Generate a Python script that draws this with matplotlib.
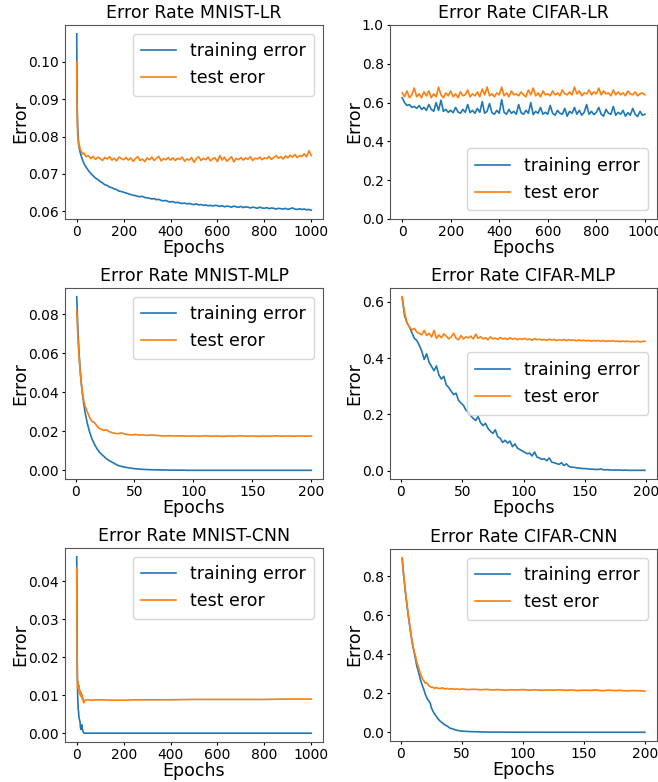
import matplotlib
matplotlib.use("Agg")
import matplotlib.pyplot as plt
from matplotlib.ticker import FormatStrFormatter

# ---------------- MNIST-LR ----------------
mnist_lr_epochs = [0, 1, 2, 4, 6, 8, 10, 15, 20, 25, 30] + list(range(40, 1001, 10))
mnist_lr_train = [0.1075, 0.0950, 0.0880, 0.0830, 0.0800, 0.0785, 0.0772, 0.0757, 0.0746, 0.0737, 0.0729,
                  0.0718, 0.0709, 0.0701, 0.0695, 0.0689, 0.0685, 0.0680,
                  0.0676, 0.0671, 0.0669, 0.0665, 0.0663, 0.0660, 0.0658, 0.0654, 0.0653, 0.0651,
                  0.0649, 0.0647, 0.0645, 0.0643, 0.0642, 0.0640, 0.0639, 0.0640, 0.0637, 0.0636,
                  0.0635, 0.0633, 0.0634, 0.0631, 0.0632, 0.0629, 0.0628, 0.0629, 0.0626, 0.0625,
                  0.0626, 0.0623, 0.0624, 0.0622, 0.0621, 0.0622, 0.0620, 0.0621, 0.0619, 0.0618,
                  0.0620, 0.0617, 0.0618, 0.0616, 0.0617, 0.0615, 0.0616, 0.0614, 0.0616, 0.0615,
                  0.0613, 0.0615, 0.0612, 0.0614, 0.0613, 0.0611, 0.0614, 0.0612, 0.0611, 0.0613,
                  0.0610, 0.0612, 0.0611, 0.0609, 0.0611, 0.0610, 0.0608, 0.0611, 0.0609, 0.0608,
                  0.0610, 0.0607, 0.0609, 0.0608, 0.0606, 0.0608, 0.0607, 0.0606, 0.0608, 0.0605,
                  0.0607, 0.0609, 0.0606, 0.0605, 0.0607, 0.0605, 0.0606, 0.0604, 0.0605, 0.0603]
mnist_lr_test = [0.1000, 0.0900, 0.0845, 0.0805, 0.0790, 0.0778, 0.0780, 0.0766, 0.0760, 0.0753, 0.0756,
                 0.0746, 0.0749, 0.0741, 0.0747, 0.0739, 0.0745, 0.0741,
                 0.0736, 0.0744, 0.0740, 0.0746, 0.0737, 0.0742, 0.0735, 0.0745, 0.0741, 0.0738,
                 0.0744, 0.0737, 0.0743, 0.0734, 0.0741, 0.0746, 0.0736, 0.0740, 0.0733, 0.0743,
                 0.0738, 0.0745, 0.0736, 0.0742, 0.0747, 0.0735, 0.0741, 0.0738, 0.0744, 0.0737,
                 0.0743, 0.0736, 0.0742, 0.0739, 0.0745, 0.0734, 0.0740, 0.0737, 0.0744, 0.0731,
                 0.0741, 0.0746, 0.0736, 0.0742, 0.0738, 0.0745, 0.0735, 0.0741, 0.0743, 0.0733,
                 0.0749, 0.0737, 0.0745, 0.0734, 0.0740, 0.0746, 0.0732, 0.0742, 0.0738, 0.0744,
                 0.0737, 0.0743, 0.0739, 0.0746, 0.0736, 0.0742, 0.0740, 0.0745, 0.0738, 0.0743,
                 0.0741, 0.0747, 0.0739, 0.0744, 0.0749, 0.0742, 0.0746, 0.0740, 0.0748, 0.0743,
                 0.0750, 0.0745, 0.0752, 0.0744, 0.0749, 0.0747, 0.0754, 0.0746, 0.0762, 0.0749]

# ---------------- CIFAR-LR ----------------
cifar_lr_epochs = list(range(0, 1001, 10))
cifar_lr_train = [0.625, 0.600, 0.585, 0.590, 0.575, 0.580, 0.570, 0.585, 0.565, 0.575,
                  0.560, 0.590, 0.565, 0.555, 0.600, 0.560, 0.612, 0.555, 0.565, 0.550,
                  0.560, 0.548, 0.575, 0.552, 0.545, 0.565, 0.550, 0.590, 0.548, 0.560,
                  0.545, 0.570, 0.550, 0.605, 0.545, 0.555, 0.595, 0.548, 0.540, 0.560,
                  0.545, 0.615, 0.550, 0.540, 0.565, 0.545, 0.555, 0.540, 0.590, 0.548,
                  0.540, 0.560, 0.545, 0.600, 0.538, 0.555, 0.545, 0.575, 0.540, 0.550,
                  0.540, 0.585, 0.545, 0.535, 0.560, 0.545, 0.540, 0.570, 0.530, 0.555,
                  0.545, 0.575, 0.540, 0.560, 0.535, 0.550, 0.590, 0.540, 0.555, 0.538,
                  0.550, 0.575, 0.540, 0.530, 0.565, 0.545, 0.540, 0.580, 0.535, 0.550,
                  0.540, 0.560, 0.530, 0.548, 0.535, 0.570, 0.540, 0.528, 0.555, 0.535,
                  0.540]
cifar_lr_test = [0.650, 0.630, 0.660, 0.625, 0.640, 0.675, 0.630, 0.645, 0.625, 0.655,
                 0.635, 0.660, 0.625, 0.645, 0.630, 0.680, 0.640, 0.625, 0.650, 0.635,
                 0.660, 0.630, 0.645, 0.625, 0.655, 0.635, 0.640, 0.665, 0.630, 0.645,
                 0.635, 0.655, 0.630, 0.670, 0.640, 0.680, 0.635, 0.645, 0.630, 0.650,
                 0.640, 0.680, 0.635, 0.650, 0.630, 0.660, 0.640, 0.645, 0.635, 0.655,
                 0.640, 0.630, 0.665, 0.640, 0.675, 0.635, 0.650, 0.630, 0.660, 0.640,
                 0.645, 0.635, 0.660, 0.640, 0.650, 0.635, 0.665, 0.645, 0.640, 0.655,
                 0.640, 0.680, 0.645, 0.660, 0.635, 0.650, 0.645, 0.665, 0.640, 0.655,
                 0.645, 0.675, 0.640, 0.660, 0.645, 0.650, 0.635, 0.665, 0.640, 0.655,
                 0.640, 0.650, 0.635, 0.660, 0.645, 0.640, 0.655, 0.635, 0.645, 0.650,
                 0.640]

# ---------------- MNIST-MLP ----------------
mnist_mlp_epochs = [1, 2, 3, 4, 5, 6, 7, 8] + list(range(10, 31, 2)) + list(range(33, 61, 3)) + list(range(65, 201, 5))
mnist_mlp_train = [0.0890, 0.0720, 0.0600, 0.0510, 0.0440, 0.0385, 0.0340, 0.0300,
                   0.0240, 0.0195, 0.0160, 0.0135, 0.0112, 0.0095, 0.0082, 0.0072, 0.0060, 0.0052, 0.0045,
                   0.0035, 0.0025, 0.0020, 0.0016, 0.0013, 0.0010, 0.0008, 0.0006, 0.0005, 0.0004,
                   0.0003, 0.0002, 0.0002, 0.0001, 0.0001, 0.0001, 0.0,
                   0.0, 0.0, 0.0, 0.0, 0.0, 0.0, 0.0, 0.0, 0.0, 0.0, 0.0,
                   0.0, 0.0, 0.0, 0.0, 0.0, 0.0, 0.0, 0.0, 0.0, 0.0]
mnist_mlp_test = [0.0820, 0.0680, 0.0580, 0.0500, 0.0440, 0.0390, 0.0355, 0.0330,
                  0.0300, 0.0270, 0.0250, 0.0245, 0.0228, 0.0215, 0.0210, 0.0205, 0.0208, 0.0200, 0.0195,
                  0.0190, 0.0188, 0.0192, 0.0185, 0.0183, 0.0181, 0.0184, 0.0180, 0.0182, 0.0179,
                  0.0181, 0.0178, 0.0176, 0.0177, 0.0176, 0.0177, 0.0175,
                  0.0176, 0.0175, 0.0177, 0.0175, 0.0176, 0.0174, 0.0176, 0.0175, 0.0177, 0.0175, 0.0176,
                  0.0174, 0.0176, 0.0175, 0.0177, 0.0175, 0.0176, 0.0175, 0.0176, 0.0175, 0.0176]

# ---------------- CIFAR-MLP ----------------
cifar_mlp_epochs = list(range(1, 201, 2))
cifar_mlp_train = [0.615, 0.550, 0.525, 0.510, 0.490, 0.470, 0.462, 0.445, 0.425, 0.395,
                   0.415, 0.385, 0.370, 0.355, 0.372, 0.340, 0.325, 0.335, 0.305, 0.295,
                   0.282, 0.270, 0.275, 0.250, 0.240, 0.232, 0.215, 0.210, 0.195, 0.185,
                   0.178, 0.192, 0.170, 0.160, 0.168, 0.150, 0.140, 0.132, 0.145, 0.120,
                   0.115, 0.100, 0.108, 0.098, 0.105, 0.085, 0.095, 0.080, 0.075, 0.070,
                   0.065, 0.060, 0.062, 0.052, 0.066, 0.048, 0.045, 0.040, 0.042, 0.035,
                   0.045, 0.030, 0.028, 0.025, 0.022, 0.028, 0.018, 0.024, 0.015, 0.012,
                   0.012, 0.010, 0.009, 0.008, 0.007, 0.007, 0.006, 0.005, 0.005, 0.004,
                   0.004, 0.006, 0.003, 0.003, 0.003, 0.002, 0.002, 0.002, 0.002, 0.002,
                   0.001, 0.002, 0.001, 0.001, 0.001, 0.001, 0.001, 0.001, 0.001, 0.001]
cifar_mlp_test = [0.618, 0.560, 0.525, 0.510, 0.500, 0.505, 0.492, 0.488, 0.482, 0.498,
                  0.480, 0.488, 0.475, 0.498, 0.470, 0.482, 0.472, 0.486, 0.478, 0.468,
                  0.475, 0.488, 0.470, 0.465, 0.480, 0.468, 0.475, 0.472, 0.478, 0.468,
                  0.485, 0.470, 0.476, 0.468, 0.472, 0.465, 0.475, 0.468, 0.471, 0.466,
                  0.473, 0.468, 0.470, 0.466, 0.472, 0.467, 0.470, 0.465, 0.469, 0.466,
                  0.470, 0.465, 0.468, 0.463, 0.469, 0.465, 0.467, 0.464, 0.466, 0.463,
                  0.467, 0.464, 0.466, 0.462, 0.465, 0.463, 0.466, 0.462, 0.465, 0.463,
                  0.464, 0.461, 0.464, 0.462, 0.463, 0.461, 0.463, 0.460, 0.462, 0.461,
                  0.462, 0.460, 0.462, 0.459, 0.461, 0.460, 0.461, 0.459, 0.460, 0.458,
                  0.460, 0.459, 0.460, 0.458, 0.459, 0.458, 0.460, 0.457, 0.459, 0.460]

# ---------------- MNIST-CNN ----------------
mnist_cnn_epochs = list(range(0, 31, 2)) + [32, 35, 40, 50, 60, 80, 100, 150, 200, 250, 300, 400, 500, 600, 700, 800, 900, 1000]
mnist_cnn_train = [0.0465, 0.0200, 0.0100, 0.0065, 0.0055, 0.0040, 0.0035, 0.0030,
                   0.0015, 0.0010, 0.0018, 0.0022, 0.0012, 0.0005, 0.0003, 0.0001,
                   0.0, 0.0, 0.0, 0.0, 0.0, 0.0, 0.0, 0.0, 0.0,
                   0.0, 0.0, 0.0, 0.0, 0.0, 0.0, 0.0, 0.0, 0.0]
mnist_cnn_test = [0.0435, 0.0150, 0.0120, 0.0135, 0.0115, 0.0125, 0.0105, 0.0112,
                  0.0100, 0.0108, 0.0095, 0.0102, 0.0090, 0.0092, 0.0085, 0.0080,
                  0.0084, 0.0087, 0.0088, 0.0088, 0.0087, 0.0088, 0.0088, 0.0087, 0.0087,
                  0.0088, 0.0088, 0.0088, 0.0089, 0.0089, 0.0089, 0.0089, 0.0090, 0.0090]

# ---------------- CIFAR-CNN ----------------
cifar_cnn_epochs = list(range(1, 31)) + list(range(32, 51, 2)) + list(range(55, 201, 5))
cifar_cnn_train = [0.890, 0.820, 0.760, 0.700, 0.650, 0.600, 0.555, 0.510, 0.470, 0.435,
                   0.405, 0.375, 0.340, 0.320, 0.295, 0.270, 0.250, 0.232, 0.215, 0.195,
                   0.180, 0.168, 0.160, 0.150, 0.125, 0.112, 0.100, 0.090, 0.082, 0.072,
                   0.058, 0.048, 0.038, 0.032, 0.022, 0.018, 0.014, 0.010, 0.008, 0.006,
                   0.004, 0.003, 0.002, 0.0015, 0.001, 0.001, 0.0008, 0.0006, 0.0005, 0.0004,
                   0.0003, 0.0003, 0.0003, 0.0002, 0.0002, 0.0002, 0.0002, 0.0001, 0.0001, 0.0001,
                   0.0001, 0.0001, 0.0001, 0.0001, 0.0001, 0.0001, 0.0001, 0.0001, 0.0001, 0.0001]
cifar_cnn_test = [0.895, 0.825, 0.765, 0.705, 0.655, 0.605, 0.560, 0.515, 0.475, 0.440,
                  0.410, 0.390, 0.360, 0.340, 0.320, 0.300, 0.285, 0.270, 0.262, 0.252,
                  0.255, 0.248, 0.238, 0.235, 0.230, 0.232, 0.228, 0.225, 0.230, 0.226,
                  0.224, 0.228, 0.222, 0.225, 0.221, 0.224, 0.220, 0.223, 0.219, 0.222,
                  0.219, 0.221, 0.218, 0.220, 0.217, 0.219, 0.216, 0.218, 0.217, 0.219,
                  0.216, 0.218, 0.215, 0.217, 0.216, 0.218, 0.215, 0.217, 0.214, 0.216,
                  0.215, 0.217, 0.213, 0.216, 0.214, 0.215, 0.212, 0.214, 0.213, 0.211]

titles = ["Error Rate MNIST-LR", "Error Rate CIFAR-LR",
          "Error Rate MNIST-MLP", "Error Rate CIFAR-MLP",
          "Error Rate MNIST-CNN", "Error Rate CIFAR-CNN"]
legend_labels = ["training error", "test eror"]
xticks_1000 = [0, 200, 400, 600, 800, 1000]
xticks_200 = [0, 50, 100, 150, 200]

panels = [
    (mnist_lr_epochs, mnist_lr_train, mnist_lr_test),
    (cifar_lr_epochs, cifar_lr_train, cifar_lr_test),
    (mnist_mlp_epochs, mnist_mlp_train, mnist_mlp_test),
    (cifar_mlp_epochs, cifar_mlp_train, cifar_mlp_test),
    (mnist_cnn_epochs, mnist_cnn_train, mnist_cnn_test),
    (cifar_cnn_epochs, cifar_cnn_train, cifar_cnn_test),
]
panel_xticks = [xticks_1000, xticks_1000, xticks_200, xticks_200, xticks_1000, xticks_200]

W, H = 658, 782
boxes = [(65, 25, 323, 219), (390, 25, 657, 219),
         (65, 288, 323, 479), (390, 288, 657, 479),
         (65, 548, 323, 742), (390, 549, 657, 741)]
legend_locs = ["upper right", "lower right", "upper right",
               "center right", "upper right", "upper right"]
ytick_fmt = ["%.2f", "%.1f", "%.2f", "%.1f", "%.2f", "%.1f"]

fig = plt.figure(figsize=(W / 100, H / 100), dpi=100)
for i, (ep, tr, te) in enumerate(panels):
    l, t, r, b = boxes[i]
    ax = fig.add_axes([l / W, 1 - b / H, (r - l) / W, (b - t) / H])
    ax.plot(ep, tr, color="#1f77b4", lw=1.2, label=legend_labels[0])
    ax.plot(ep, te, color="#ff7f0e", lw=1.2, label=legend_labels[1])
    if i == 1:
        ax.set_ylim(0, 1.0)
    ax.set_xticks(panel_xticks[i])
    ax.set_title(titles[i], fontsize=12.5, pad=5)
    ax.set_xlabel("Epochs", fontsize=12.5, labelpad=0)
    ax.set_ylabel("Error", fontsize=12.5, labelpad=-1)
    ax.tick_params(labelsize=10, length=2.5, pad=2)
    ax.yaxis.set_major_formatter(FormatStrFormatter(ytick_fmt[i]))
    for s in ax.spines.values():
        s.set_edgecolor("#555555")
    ax.legend(loc=legend_locs[i], fontsize=12.5, borderpad=0.5)

fig.savefig("out.png", dpi=100)
